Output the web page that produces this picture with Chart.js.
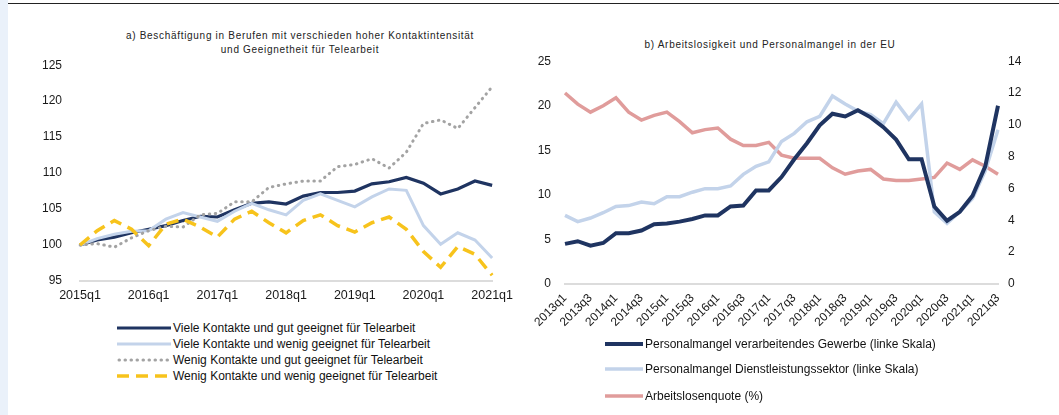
<!DOCTYPE html>
<html><head><meta charset="utf-8">
<script src="https://cdn.jsdelivr.net/npm/chart.js@4.4.1/dist/chart.umd.min.js"></script>
<style>
body{margin:0;background:#fff;width:1059px;height:415px;overflow:hidden;position:relative;font-family:"Liberation Sans",Arial,sans-serif;}
#strip{position:absolute;left:0;top:0;width:8px;height:415px;background:#eaf1fa;}
#topline{position:absolute;left:8px;top:3px;width:1051px;height:1px;background:#222;}
canvas{position:absolute;}
.title{position:absolute;font-size:10px;letter-spacing:0.7px;color:#222;text-align:center;line-height:14px;white-space:nowrap;}
.lrow{position:absolute;white-space:nowrap;height:14px;line-height:14px;font-size:12px;color:#111;}
.lrow svg{position:absolute;top:4px;}
.lrow span{position:absolute;top:0;}
</style></head>
<body>
<div id="strip"></div><div id="topline"></div>
<div class="title" style="left:100px;top:29px;width:400px;">a) Beschäftigung in Berufen mit verschieden hoher Kontaktintensität<br>und Geeignetheit für Telearbeit</div>
<div class="title" style="left:600px;top:38px;width:340px;">b) Arbeitslosigkeit und Personalmangel in der EU</div>
<canvas id="cA" width="520" height="270" style="left:0;top:40px;"></canvas>
<canvas id="cB" width="530" height="300" style="left:520px;top:40px;"></canvas>
<div id="legA"></div><div id="legB"></div>
<script>
// ---------- Panel a ----------
const quartersA = ["2015q1","2015q2","2015q3","2015q4","2016q1","2016q2","2016q3","2016q4",
  "2017q1","2017q2","2017q3","2017q4","2018q1","2018q2","2018q3","2018q4",
  "2019q1","2019q2","2019q3","2019q4","2020q1","2020q2","2020q3","2020q4","2021q1"];
const namesA = ["Viele Kontakte und gut geeignet für Telearbeit",
  "Viele Kontakte und wenig geeignet für Telearbeit",
  "Wenig Kontakte und gut geeignet für Telearbeit",
  "Wenig Kontakte und wenig geeignet für Telearbeit"];
const vieleGut = [100,100.7,101.1,101.7,102.2,102.7,103.4,104.0,103.9,104.9,105.8,106.0,105.7,106.8,107.3,107.3,107.5,108.5,108.8,109.4,108.6,107.1,107.8,108.9,108.3];
const vieleWenig = [100,100.9,101.5,101.9,102.0,103.6,104.5,103.9,103.3,104.7,105.8,104.9,104.2,106.2,107.1,106.2,105.3,106.7,107.8,107.6,102.7,100.1,101.7,100.7,98.2];
const wenigGut = [100,100.2,99.7,101.0,102.0,102.6,102.5,104.2,104.4,106.0,106.0,108.0,108.5,108.9,108.9,110.9,111.2,112.0,110.7,112.9,116.9,117.4,116.2,119.1,122.0];
const wenigWenig = [100,102.0,103.4,102.2,99.9,102.9,103.6,102.5,101.1,103.6,104.7,103.1,101.7,103.4,104.2,102.7,101.8,103.1,103.9,102.2,99.1,96.9,99.8,98.7,95.8];
const yTicksA = {min:95, max:125, step:5};

// ---------- Panel b ----------
const quartersB = ["2013q1","2013q2","2013q3","2013q4","2014q1","2014q2","2014q3","2014q4",
  "2015q1","2015q2","2015q3","2015q4","2016q1","2016q2","2016q3","2016q4",
  "2017q1","2017q2","2017q3","2017q4","2018q1","2018q2","2018q3","2018q4",
  "2019q1","2019q2","2019q3","2019q4","2020q1","2020q2","2020q3","2020q4",
  "2021q1","2021q2","2021q3"];
const namesB = ["Personalmangel verarbeitendes Gewerbe (linke Skala)",
  "Personalmangel Dienstleistungssektor (linke Skala)",
  "Arbeitslosenquote (%)"];
const mangelGewerbe = [4.5,4.8,4.3,4.6,5.7,5.7,6.0,6.7,6.8,7.0,7.3,7.7,7.7,8.7,8.8,10.5,10.5,12.0,14.0,15.8,17.8,19.1,18.8,19.5,18.7,17.6,16.2,14.0,14.0,8.7,7.1,8.1,9.9,13.2,20.0];
const mangelDienst = [7.7,7.0,7.4,8.0,8.7,8.8,9.2,9.0,9.8,9.8,10.3,10.7,10.7,11.0,12.3,13.2,13.7,16.0,16.9,18.2,18.8,21.1,20.2,19.4,19.0,18.0,20.4,18.5,20.2,8.1,6.8,8.1,9.6,12.7,17.3];
const arbeitslosenquote = [12.0,11.3,10.8,11.2,11.7,10.8,10.3,10.6,10.8,10.2,9.5,9.7,9.8,9.1,8.7,8.7,8.9,8.1,7.9,7.9,7.9,7.3,6.9,7.1,7.2,6.6,6.5,6.5,6.6,6.7,7.6,7.2,7.8,7.4,6.9];
const yTicksBLeft = {min:0, max:25, step:5};
const yTicksBRight = {min:0, max:14, step:2};

// ---------- styles ----------
const NAVY = '#1f3461', LIGHT = '#c3d3ea', GRAY = '#a3a3a3', YELLOW = '#f7c31c', RED = '#e09c9b';
const FONT = '"Liberation Sans", Arial, sans-serif';
const TXT = '#1a1a1a';
const stylesA = [
  {color:NAVY, width:3.2, dash:[], cap:'butt'},
  {color:LIGHT, width:3, dash:[], cap:'butt'},
  {color:GRAY, width:3, dash:[0.5,5.5], cap:'round'},
  {color:YELLOW, width:3.5, dash:[12,7], cap:'butt'}
];
const stylesB = [
  {color:NAVY, width:4, dash:[], cap:'butt', axis:'y'},
  {color:LIGHT, width:3.5, dash:[], cap:'butt', axis:'y'},
  {color:RED, width:3.5, dash:[], cap:'butt', axis:'y1'}
];

Chart.defaults.font.family = FONT;
Chart.defaults.color = TXT;

const seriesA = [vieleGut, vieleWenig, wenigGut, wenigWenig];
new Chart(document.getElementById('cA'), {
  type:'line',
  data:{labels:quartersA, datasets: seriesA.map((d,i)=>({
    label:namesA[i], data:d, borderColor:stylesA[i].color, borderWidth:stylesA[i].width,
    borderDash:stylesA[i].dash, borderCapStyle:stylesA[i].cap, pointRadius:0, tension:0, fill:false
  })).reverse()},
  options:{
    responsive:false, animation:false, devicePixelRatio:1,
    layout:{padding:{left:0,right:22,top:16,bottom:0}},
    plugins:{legend:{display:false}, tooltip:{enabled:false}},
    scales:{
      x:{type:'category', offset:false,
        grid:{display:false, drawTicks:false},
        border:{display:true, color:'#dcdcdc', width:2},
        ticks:{autoSkip:false, maxRotation:0, minRotation:0, padding:7, font:{size:12.5},
          callback:(v,i)=> i%4===0 ? quartersA[i] : ''},
        afterFit:s=>{s.height=29;}},
      y:{min:yTicksA.min, max:yTicksA.max,
        grid:{display:false, drawTicks:false}, border:{display:false},
        ticks:{stepSize:yTicksA.step, padding:18, font:{size:12}},
        afterFit:s=>{s.width=80;}}
    }
  }
});

const seriesB = [mangelGewerbe, mangelDienst, arbeitslosenquote];
new Chart(document.getElementById('cB'), {
  type:'line',
  data:{labels:quartersB, datasets: seriesB.map((d,i)=>({
    label:namesB[i], data:d, borderColor:stylesB[i].color, borderWidth:stylesB[i].width,
    borderDash:stylesB[i].dash, yAxisID:stylesB[i].axis, pointRadius:0, tension:0, fill:false,
    order: i
  }))},
  options:{
    responsive:false, animation:false, devicePixelRatio:1,
    layout:{padding:{left:0,right:0,top:16,bottom:0}},
    plugins:{legend:{display:false}, tooltip:{enabled:false}},
    scales:{
      x:{type:'category', offset:false,
        grid:{display:false, drawTicks:false},
        border:{display:true, color:'#dcdcdc', width:2},
        ticks:{autoSkip:false, maxRotation:45, minRotation:45, padding:7, font:{size:12},
          callback:(v,i)=> i%2===0 ? quartersB[i] : ''},
        afterFit:s=>{s.height=56;}},
      y:{position:'left', min:yTicksBLeft.min, max:yTicksBLeft.max,
        grid:{display:false, drawTicks:false}, border:{display:false},
        ticks:{stepSize:yTicksBLeft.step, padding:14, font:{size:12}},
        afterFit:s=>{s.width=45;}},
      y1:{position:'right', min:yTicksBRight.min, max:yTicksBRight.max,
        grid:{display:false, drawTicks:false}, border:{display:false},
        ticks:{stepSize:yTicksBRight.step, padding:10, font:{size:12}},
        afterFit:s=>{s.width=52;}}
    }
  }
});

// ---------- HTML legends ----------
function legendRow(parent, x, y, lineW, st, text){
  const row = document.createElement('div');
  row.className = 'lrow';
  row.style.left = x+'px'; row.style.top = (y-7)+'px';
  const dash = st.dash.length ? st.dash.join(' ') : 'none';
  row.innerHTML = '<svg width="'+lineW+'" height="6" style="left:0"><line x1="'+(st.cap==='round'?2:0)+'" y1="3" x2="'+lineW+'" y2="3" stroke="'+st.color+'" stroke-width="'+st.width+'" stroke-dasharray="'+dash+'" stroke-linecap="'+st.cap+'"/></svg><span style="left:'+(lineW+2)+'px">'+text+'</span>';
  parent.appendChild(row);
}
const legA = document.getElementById('legA');
const rowsA = [328, 344, 360, 376];
namesA.forEach((n,i)=>legendRow(legA, 117, rowsA[i], 54, stylesA[i], n));
const legB = document.getElementById('legB');
const rowsB = [344, 369, 396];
namesB.forEach((n,i)=>legendRow(legB, 605, rowsB[i], 38, stylesB[i], n));
</script>
</body></html>
